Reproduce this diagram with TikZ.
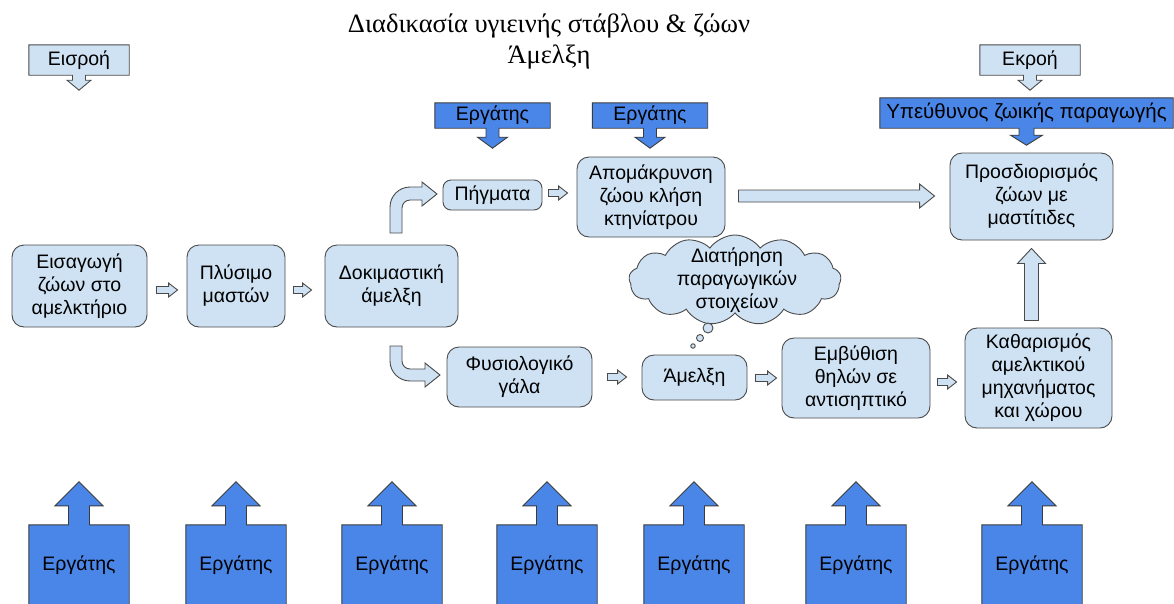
\documentclass[tikz,border=0pt]{standalone}
\usepackage{fontspec}
\setmainfont{Liberation Sans}
\newfontfamily\titlefont{Liberation Serif}
\usetikzlibrary{shapes.symbols,backgrounds,calc}

\definecolor{paleblue}{HTML}{CFE2F3}
\definecolor{deepblue}{HTML}{4A86E8}
\definecolor{edge}{HTML}{4A4A4A}

\pgfdeclarelayer{paper}
\pgfsetlayers{paper,background,main}

\tikzset{
  lbl/.style={font=\fontsize{19.5}{23}\selectfont, align=center, inner sep=0pt},
  stagebox/.style={lbl, draw=edge, fill=paleblue, line width=0.9pt, rounded corners=12pt},
  shapefill/.style={draw=edge, fill=paleblue, line width=0.9pt, line join=miter},
  workerfill/.style={draw=edge!80!black, fill=deepblue, line width=0.9pt, line join=miter},
  headline/.style={font=\titlefont\fontsize{26.5}{32}\selectfont, inner sep=0pt, anchor=base},
}

% horizontal hollow block arrow between two points (stem, head half widths, head length)
\newcommand\rightblock[5]{%
  \draw[shapefill] let \p1=#1, \p2=#2 in
    (\x1,\y1+#3) -- (\x2-#5,\y1+#3) -- (\x2-#5,\y1+#4) -- (\x2,\y1)
    -- (\x2-#5,\y1-#4) -- (\x2-#5,\y1-#3) -- (\x1,\y1-#3) -- cycle;}
% vertical hollow block arrow pointing up from #1 to #2
\newcommand\upblock[5]{%
  \draw[shapefill] let \p1=#1, \p2=#2 in
    (\x1-#3,\y1) -- (\x1-#3,\y2-#5) -- (\x1-#4,\y2-#5) -- (\x1,\y2)
    -- (\x1+#4,\y2-#5) -- (\x1+#3,\y2-#5) -- (\x1+#3,\y1) -- cycle;}

\begin{document}
\begin{tikzpicture}[x=1pt,y=-1pt]
\begin{pgfonlayer}{paper}
  \fill[white] (0,0) rectangle (1174,603);
\end{pgfonlayer}
\useasboundingbox (0,0) rectangle (1174,603);

% heading
\node[headline] (title1) at (549,32) {Διαδικασία υγιεινής στάβλου \& ζώων};
\node[headline] (title2) at (549,63) {Άμελξη};

% process stages
\node[stagebox, minimum width=135pt, minimum height=82pt] (eisag) at (79.5,286) {Εισαγωγή\\ζώων στο\\αμελκτήριο};
\node[stagebox, minimum width=98pt, minimum height=82pt] (plys) at (236,286) {Πλύσιμο\\μαστών};
\node[stagebox, minimum width=133pt, minimum height=82pt] (dokim) at (391.5,286) {Δοκιμαστική\\άμελξη};
\node[stagebox, rounded corners=8pt, minimum width=99pt, minimum height=30pt] (pigm) at (492.5,195) {Πήγματα};
\node[stagebox, minimum width=148pt, minimum height=80pt] (apom) at (651,197) {Απομάκρυνση\\ζώου κλήση\\κτηνίατρου};
\node[stagebox, minimum width=163pt, minimum height=87pt] (prosd) at (1031.5,196.5) {Προσδιορισμός\\ζώων με\\μαστίτιδες};
\node[stagebox, minimum width=145pt, minimum height=60pt] (fysio) at (519.5,377) {Φυσιολογικό\\γάλα};
\node[stagebox, minimum width=105pt, minimum height=45pt] (amel) at (694.5,377.5) {Άμελξη};
\node[stagebox, minimum width=148pt, minimum height=80pt] (emvyth) at (856,378) {Εμβύθιση\\θηλών σε\\αντισηπτικό};
\node[stagebox, minimum width=147pt, minimum height=100pt] (kathar) at (1038.5,378) {Καθαρισμός\\αμελκτικού\\μηχανήματος\\και χώρου};

% small flow arrows
\rightblock{($(eisag.east)+(9,4)$)}{($(plys.west)+(-9,4)$)}{3.5pt}{7pt}{9pt}
\rightblock{($(plys.east)+(8,4)$)}{($(dokim.west)+(-13,4)$)}{3.5pt}{7pt}{9pt}
\rightblock{($(pigm.east)+(6,-2)$)}{($(apom.west)+(-9,-4)$)}{3.5pt}{7pt}{9pt}
\rightblock{($(fysio.east)+(15,0)$)}{($(amel.west)+(-15,-0.5)$)}{3.5pt}{7pt}{9pt}
\rightblock{($(amel.east)+(8,0.5)$)}{($(emvyth.west)+(-5,0)$)}{3.5pt}{7pt}{9pt}
\rightblock{($(emvyth.east)+(7,4)$)}{($(kathar.west)+(-8,4)$)}{3.5pt}{7pt}{9pt}

% long arrow and upward arrow
\rightblock{($(apom.east)+(13,-1)$)}{($(prosd.west)+(-15,-0.5)$)}{6pt}{12pt}{15pt}
\upblock{($(prosd.south)+(0,80)$)}{($(prosd.south)+(0,8)$)}{7pt}{14pt}{15pt}

% bent arrows leaving the trial milking
\draw[shapefill] (390,233) -- (390,207) .. controls (390,196) and (399,187) .. (410,187)
  -- (422,187) -- (422,182) -- (437,194) -- (422,206) -- (422,200) -- (410,200)
  .. controls (405.6,200) and (402,203.6) .. (402,208) -- (402,233) -- cycle;
\draw[shapefill] (390,346) -- (390,361) .. controls (390,372) and (399,381) .. (410,381)
  -- (425,381) -- (425,387) -- (440,375) -- (425,363) -- (425,369) -- (410,369)
  .. controls (405.6,369) and (402,365.4) .. (402,361) -- (402,346) -- cycle;

% thought cloud
\node[cloud, cloud puffs=13, cloud puff arc=110, aspect=2.4, shapefill,
      minimum width=212pt, minimum height=90pt] (cloud) at (735,280) {};
\node[lbl] (cloudtxt) at (737,280) {Διατήρηση\\παραγωγικών\\στοιχείων};
\node[circle, shapefill, minimum size=10pt, inner sep=0pt] (bub1) at (708,328) {};
\node[circle, shapefill, minimum size=7pt, inner sep=0pt] (bub2) at (700,338) {};
\node[circle, shapefill, minimum size=4.5pt, inner sep=0pt] (bub3) at (693,346) {};

% input / output callouts
\node[lbl, minimum width=100pt, minimum height=30pt] (input) at (79,60) {Εισροή};
\node[lbl, minimum width=100pt, minimum height=30pt] (output) at (1030,60) {Εκροή};
\node[lbl, font=\fontsize{20.5}{23}\selectfont, minimum width=293pt, minimum height=30pt] (resp) at (1026.5,113) {Υπεύθυνος ζωικής παραγωγής};
\node[lbl, minimum width=115pt, minimum height=25pt] (wtop1) at (492.5,115.5) {Εργάτης};
\node[lbl, minimum width=115pt, minimum height=25pt] (wtop2) at (650,115.5) {Εργάτης};

\begin{scope}[on background layer]
  \foreach \n in {input,output}{
    \draw[shapefill] (\n.north west) -- (\n.north east) -- (\n.south east)
      -- ([xshift=6.5pt]\n.south) -- ++(0,5) -- ++(5.5,0) -- ++(-12,10) -- ++(-12,-10)
      -- ++(5.5,0) -- ++(0,-5) -- (\n.south west) -- cycle;}
  \draw[workerfill] (resp.north west) -- (resp.north east) -- (resp.south east)
    -- ([xshift=7.5pt]resp.south) -- ++(0,7) -- ++(8.5,0) -- ++(-16,10) -- ++(-16,-10)
    -- ++(8.5,0) -- ++(0,-7) -- (resp.south west) -- cycle;
  \foreach \n in {wtop1,wtop2}{
    \draw[workerfill] (\n.north west) -- (\n.north east) -- (\n.south east)
      -- ([xshift=6.5pt]\n.south) -- ++(0,9) -- ++(8.5,0) -- ++(-15,11) -- ++(-15,-11)
      -- ++(8.5,0) -- ++(0,-9) -- (\n.south west) -- cycle;}
\end{scope}

% workers under each stage
\foreach \i/\cx in {1/79,2/236,3/392,4/547,5/694,6/856,7/1032}{
  \node[lbl, minimum width=100pt, minimum height=81pt] (wbot\i) at (\cx,565.5) {Εργάτης};
  \begin{scope}[on background layer]
    \draw[workerfill] (wbot\i.south west) -- (wbot\i.north west)
      -- ([xshift=-10.5pt]wbot\i.north) -- ++(0,-19) -- ++(-13.5,0) -- ++(24,-24)
      -- ++(24,24) -- ++(-13.5,0) -- ++(0,19) -- (wbot\i.north east)
      -- (wbot\i.south east) -- cycle;
  \end{scope}
}
\end{tikzpicture}
\end{document}
